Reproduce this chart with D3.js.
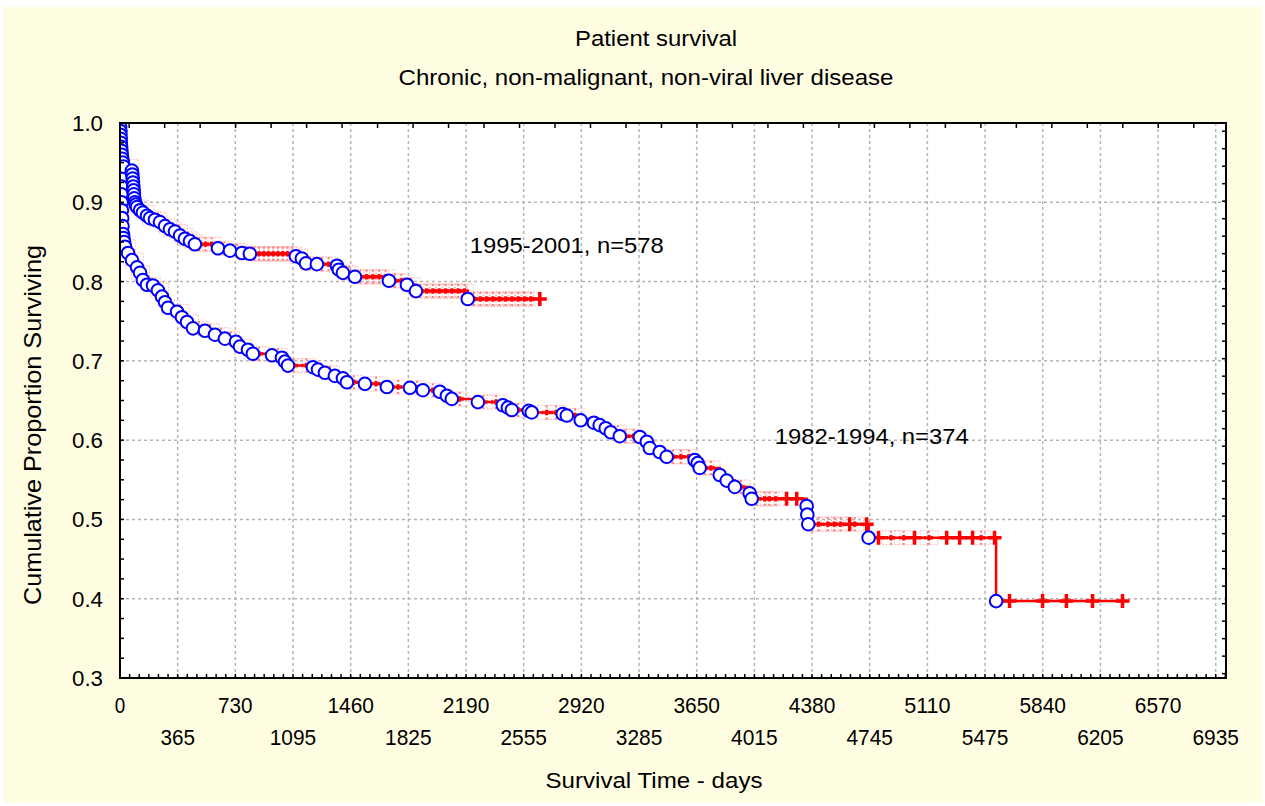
<!DOCTYPE html>
<html lang="en">
<head>
<meta charset="UTF-8">
<title>Patient survival</title>
<script src="https://d3js.org/d3.v7.min.js"></script>
<style>
  body { margin: 0; background: #fff; }
  text { font-family: "Liberation Sans", Arial, sans-serif; fill: #000; }
</style>
</head>
<body>
<svg id="chart" width="1265" height="806"></svg>
<script>
// ---- data (days, cumulative proportion surviving) ----
// 1995-2001, n=578
const upperTimes = [1, 2, 3, 4, 5, 7, 9, 11, 14, 18, 22, 75, 78, 80, 82, 84, 86, 88, 90, 95, 100,
  108, 127, 145, 171, 190, 221, 253, 285, 316, 348, 380, 411, 443, 474, 620, 696, 772, 822,
  1113, 1151, 1177, 1246, 1373, 1385, 1411, 1487, 1702, 1816, 1873, 2201];
const upperSurv = [0.995, 0.99, 0.985, 0.98, 0.975, 0.97, 0.965, 0.96, 0.955, 0.95, 0.945, 0.94, 0.935, 0.93, 0.925, 0.92, 0.915, 0.91, 0.905, 0.90, 0.897,
  0.894, 0.890, 0.887, 0.883, 0.880, 0.878, 0.875, 0.870, 0.866, 0.863, 0.858, 0.854, 0.851, 0.847, 0.842, 0.839, 0.836, 0.835,
  0.832, 0.829, 0.823, 0.822, 0.820, 0.815, 0.811, 0.806, 0.801, 0.796, 0.788, 0.778];
const upperCensorLight = [60, 120, 160, 200, 240, 300, 330, 370, 400, 430, 460, 500, 540, 580, 660, 740, 800,
  850, 880, 910, 940, 970, 1000, 1030, 1060, 1090, 1130, 1200, 1280, 1320, 1430, 1450, 1520, 1560, 1600, 1640,
  1680, 1740, 1780, 1840, 1900, 1940, 1980, 2020, 2060, 2100, 2140, 2180, 2240, 2280, 2320, 2360, 2400, 2440,
  2480, 2520, 2560, 2600];
const upperCensorBold = [2657];

// 1982-1994, n=374
const lowerTimes = [1, 2, 3, 4, 5, 6, 7, 8, 9, 10, 12, 14, 16, 19, 22, 26,
  32, 51, 76, 108, 127, 145, 171, 209, 240, 266, 285, 304, 361, 392, 424, 462, 538, 601, 664, 734, 759, 810, 841,
  962, 1025, 1044, 1063, 1221, 1253, 1297, 1360, 1411, 1436, 1550, 1689, 1835, 1917, 2024, 2069, 2100, 2265,
  2423, 2455, 2480, 2587, 2606, 2802, 2828, 2916, 2999, 3036, 3074, 3106, 3163, 3290, 3334, 3353, 3416, 3460,
  3637, 3656, 3669, 3796, 3840, 3891, 3985, 3998, 4346, 4350, 4356, 4738, 5545];
const lowerSurv = [0.99, 0.98, 0.97, 0.96, 0.95, 0.94, 0.93, 0.92, 0.91, 0.90, 0.89, 0.88, 0.87, 0.86, 0.855, 0.85,
  0.844, 0.836, 0.827, 0.818, 0.811, 0.802, 0.796, 0.795, 0.789, 0.781, 0.774, 0.767, 0.762, 0.755, 0.749, 0.741, 0.738, 0.733, 0.728, 0.724, 0.718, 0.714, 0.709,
  0.707, 0.704, 0.699, 0.694, 0.692, 0.689, 0.685, 0.681, 0.678, 0.673, 0.671, 0.667, 0.666, 0.663, 0.661, 0.656, 0.652, 0.648,
  0.644, 0.641, 0.638, 0.637, 0.635, 0.633, 0.631, 0.625, 0.622, 0.619, 0.615, 0.610, 0.605, 0.604, 0.598, 0.590, 0.585, 0.579,
  0.575, 0.571, 0.565, 0.556, 0.549, 0.541, 0.533, 0.526, 0.517, 0.506, 0.494, 0.477, 0.397];
const lowerCensorLight = [40, 90, 130, 200, 250, 320, 380, 440, 500, 570, 640, 700, 780, 880, 1000, 1100, 1180,
  1330, 1480, 1620, 1760, 1880, 1980, 2150, 2300, 2380, 2520, 2700, 2760, 2880, 3150, 3200, 3250, 3380, 3500,
  3550, 3600, 3700, 3740, 3930, 4030, 4080, 4110, 4150, 4380, 4420, 4480, 4520, 4560, 4650, 4880, 4960, 5120, 5450];
const lowerCensorBold = [4219, 4283, 4618, 4726, 4801, 5029, 5232, 5314, 5396, 5535, 5630, 5839, 5990, 6155, 6345];

const xTicksRow1 = [0, 730, 1460, 2190, 2920, 3650, 4380, 5110, 5840, 6570];
const xTicksRow2 = [365, 1095, 1825, 2555, 3285, 4015, 4745, 5475, 6205, 6935];
const yTicks = [0.3, 0.4, 0.5, 0.6, 0.7, 0.8, 0.9, 1.0];
const xGrid = [365, 730, 1095, 1460, 1825, 2190, 2555, 2920, 3285, 3650, 4015, 4380, 4745, 5110, 5475, 5840, 6205, 6570, 6935];
const yGrid = [0.4, 0.5, 0.6, 0.7, 0.8, 0.9];

const curveLabels = [
  { text: "1995-2001, n=578", t: 2214, s: 0.836 },
  { text: "1982-1994, n=374", t: 4144, s: 0.595 }
];

// ---- layout ----
const svg = d3.select("#chart");
const pLeft = 120, pRight = 1226, pTop = 123, pBottom = 678;

svg.append("rect").attr("x", 3).attr("y", 7).attr("width", 1259).attr("height", 796).attr("fill", "#fffde1");

const x = d3.scaleLinear().domain([0, 7000]).range([pLeft, pRight]);
const y = d3.scaleLinear().domain([0.3, 1.0]).range([pBottom, pTop]);

svg.append("rect").attr("x", pLeft).attr("y", pTop).attr("width", pRight - pLeft).attr("height", pBottom - pTop).attr("fill", "#fff");

svg.append("defs").append("clipPath").attr("id", "plotclip")
  .append("rect").attr("x", pLeft).attr("y", pTop - 1).attr("width", pRight - pLeft).attr("height", pBottom - pTop + 2);

// grid
const grid = svg.append("g").attr("stroke", "#b4b4b4").attr("stroke-width", 1.5).attr("stroke-dasharray", "3,3");
grid.selectAll(".gx").data(xGrid).join("line")
  .attr("x1", d => x(d)).attr("x2", d => x(d)).attr("y1", pTop).attr("y2", pBottom);
grid.selectAll(".gy").data(yGrid).join("line")
  .attr("x1", pLeft).attr("x2", pRight).attr("y1", d => y(d)).attr("y2", d => y(d));

const plot = svg.append("g").attr("clip-path", "url(#plotclip)");

function survAt(times, surv, t) {
  const i = d3.bisectRight(times, t);
  return i === 0 ? 1 : surv[i - 1];
}

const stepLine = d3.line().x(d => x(d[0])).y(d => y(d[1])).curve(d3.curveStepAfter);

function plus(g, pts, w, h, color, width, dash) {
  const p = g.selectAll(null).data(pts).join("path")
    .attr("d", d => `M${x(d[0]) - w},${y(d[1])}H${x(d[0]) + w}M${x(d[0])},${y(d[1]) - h}V${y(d[1]) + h}`)
    .attr("stroke", color).attr("stroke-width", width).attr("fill", "none");
  if (dash) p.attr("stroke-dasharray", dash);
}

function drawCurve(times, surv, light, bold) {
  const g = plot.append("g");
  const end = d3.max(bold.concat(light));
  const pts = [[0, 1]].concat(times.map((t, i) => [t, surv[i]]));
  pts.push([end, surv[surv.length - 1]]);
  const lightPts = light.map(t => [t, survAt(times, surv, t)]);
  const boldPts = bold.map(t => [t, survAt(times, surv, t)]);
  // faint hatched boxes of the dense censor marks
  g.selectAll(null).data(lightPts).join("rect")
    .attr("x", d => x(d[0]) - 9).attr("y", d => y(d[1]) - 7).attr("width", 18).attr("height", 14)
    .attr("fill", "none").attr("stroke", "#ffb4b4").attr("stroke-width", 1).attr("stroke-dasharray", "1.5,1.5");
  plus(g, lightPts, 2, 7, "#ff7a7a", 2, "2,2");
  g.append("path").datum(pts).attr("d", stepLine)
    .attr("fill", "none").attr("stroke", "#ff0000").attr("stroke-width", 2.5);
  plus(g, lightPts, 5, 2.5, "#ff0000", 3.5, "2,1.5");
  plus(g, boldPts, 7, 7, "#ff0000", 3.5);
  g.selectAll("circle").data(times.map((t, i) => [t, surv[i]])).join("circle")
    .attr("cx", d => x(d[0])).attr("cy", d => y(d[1])).attr("r", 6.3)
    .attr("fill", "#fff").attr("stroke", "#0000ff").attr("stroke-width", 2);
}

drawCurve(lowerTimes, lowerSurv, lowerCensorLight, lowerCensorBold);
drawCurve(upperTimes, upperSurv, upperCensorLight, upperCensorBold);

// frame and inward ticks
const frame = svg.append("g").attr("stroke", "#000");
const tl = 4;
frame.selectAll(".tl").data(d3.range(0.3, 1.0001, 0.025)).join("line")
  .attr("x1", pLeft).attr("x2", pLeft + tl).attr("y1", d => y(d)).attr("y2", d => y(d)).attr("stroke-width", 1.5);
frame.selectAll(".tr").data(d3.range(0.3055, 1.0001, 0.02207)).join("line")
  .attr("x1", pRight).attr("x2", pRight - tl).attr("y1", d => y(d)).attr("y2", d => y(d)).attr("stroke-width", 1.5);
frame.selectAll(".tb").data(d3.range(0, 7000, 365 / 6)).join("line")
  .attr("x1", d => x(d)).attr("x2", d => x(d)).attr("y1", pBottom).attr("y2", pBottom - tl).attr("stroke-width", 1.5);
frame.selectAll(".tt").data(d3.range(58, 7000, 224.6)).join("line")
  .attr("x1", d => x(d)).attr("x2", d => x(d)).attr("y1", pTop).attr("y2", pTop + tl + 1).attr("stroke-width", 1.5);
frame.append("rect").attr("x", pLeft).attr("y", pTop).attr("width", pRight - pLeft).attr("height", pBottom - pTop)
  .attr("fill", "none").attr("stroke-width", 2);

// tick labels (tall, narrow glyphs squeezed with textLength)
const lab = svg.append("g").attr("font-size", 22).attr("lengthAdjust", "spacingAndGlyphs");
lab.selectAll(".yl").data(yTicks).join("text")
  .attr("x", 103).attr("y", d => y(d) + 8).attr("text-anchor", "end")
  .attr("textLength", 31).attr("lengthAdjust", "spacingAndGlyphs").text(d => d.toFixed(1));
lab.selectAll(".x1").data(xTicksRow1).join("text")
  .attr("x", d => x(d)).attr("y", 713).attr("text-anchor", "middle")
  .attr("textLength", d => String(d).length * 12 - 1.5).attr("lengthAdjust", "spacingAndGlyphs").text(d => d);
lab.selectAll(".x2").data(xTicksRow2).join("text")
  .attr("x", d => x(d)).attr("y", 745).attr("text-anchor", "middle")
  .attr("textLength", d => String(d).length * 12 - 1.5).attr("lengthAdjust", "spacingAndGlyphs").text(d => d);

// titles
svg.append("text").attr("x", 656).attr("y", 46).attr("text-anchor", "middle").attr("font-size", 22)
  .attr("textLength", 162).attr("lengthAdjust", "spacingAndGlyphs").text("Patient survival");
svg.append("text").attr("x", 646).attr("y", 85).attr("text-anchor", "middle").attr("font-size", 22)
  .attr("textLength", 495).attr("lengthAdjust", "spacingAndGlyphs").text("Chronic, non-malignant, non-viral liver disease");
svg.append("text").attr("x", 654).attr("y", 788).attr("text-anchor", "middle").attr("font-size", 22)
  .attr("textLength", 217).attr("lengthAdjust", "spacingAndGlyphs").text("Survival Time - days");
svg.append("text").attr("transform", "translate(41,425) rotate(-90)").attr("text-anchor", "middle").attr("font-size", 24)
  .attr("textLength", 360).attr("lengthAdjust", "spacingAndGlyphs").text("Cumulative Proportion Surviving");

svg.selectAll(".cl").data(curveLabels).join("text")
  .attr("x", d => x(d.t)).attr("y", d => y(d.s)).attr("font-size", 22)
  .attr("textLength", 194).attr("lengthAdjust", "spacingAndGlyphs").text(d => d.text);
</script>
</body>
</html>
